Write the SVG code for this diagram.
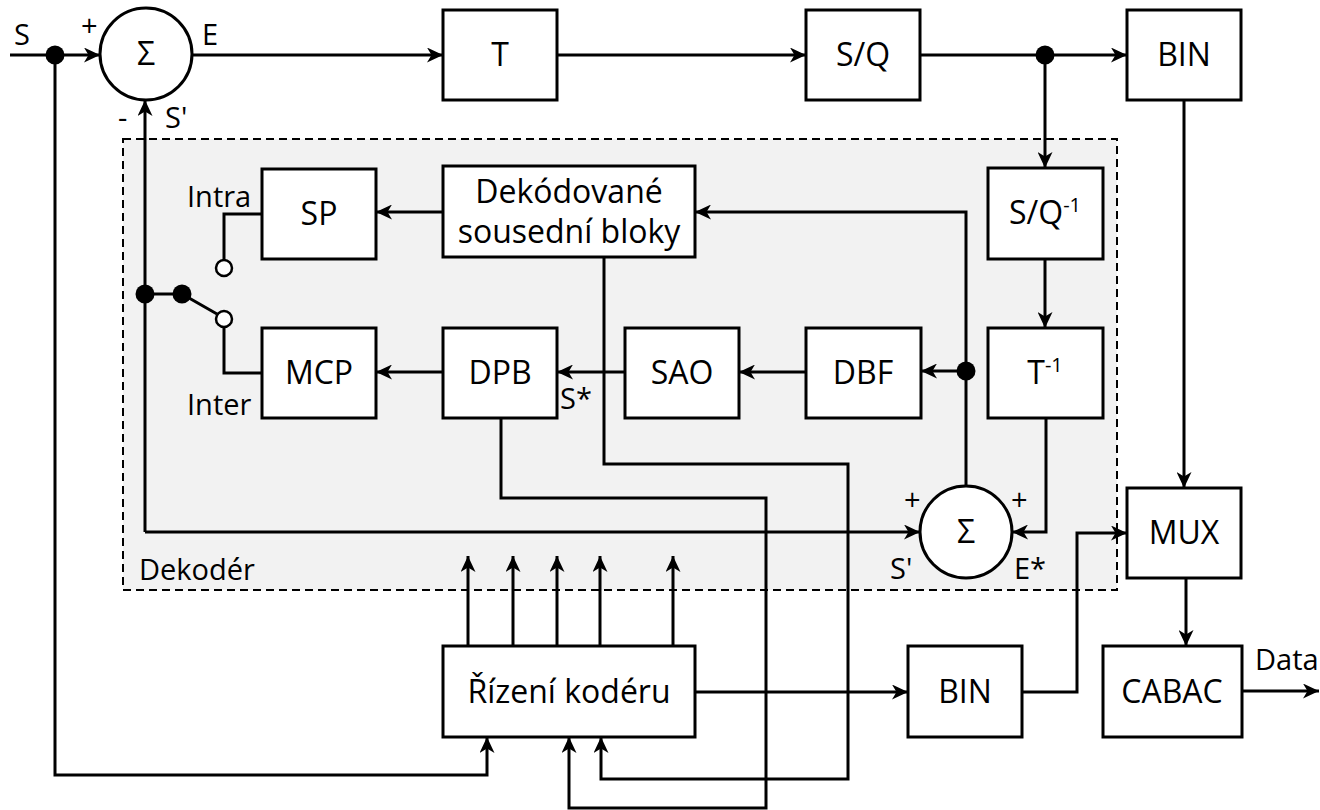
<svg xmlns="http://www.w3.org/2000/svg" width="1320" height="810" viewBox="0 0 1320 810">
<defs>
<marker id="arr" markerUnits="userSpaceOnUse" markerWidth="17" markerHeight="15" viewBox="0 0 17 15" refX="16" refY="7.5" orient="auto">
<path d="M0,0 L16,7.5 L0,15 L4.5,7.5 Z" fill="#000"/>
</marker>
<style>
.box{fill:#fff;stroke:#000;stroke-width:3}
.ln{fill:none;stroke:#000;stroke-width:3}
.a{marker-end:url(#arr)}
.dot{fill:#000}
.open{fill:#fff;stroke:#000;stroke-width:2.5}
.t{font-family:"Open Sans","Noto Sans",sans-serif;font-size:32px;fill:#000;text-anchor:middle}
.l{font-family:"Open Sans","Noto Sans",sans-serif;font-size:29px;fill:#000}
.sup{font-size:20px}
</style>
</defs>
<rect x="0" y="0" width="1320" height="810" fill="#fff"/>
<g id="decoder">
<rect x="123" y="139" width="994" height="451" fill="#f2f2f2" stroke="#000" stroke-width="2" stroke-dasharray="8,5"/>
<text class="l" x="139" y="580" font-size="30">Dekodér</text>
</g>
<g id="connectors">
<path class="ln a" d="M10,55 L100,55"/>
<path class="ln a" d="M192,55 L443,55"/>
<path class="ln a" d="M557,55 L806,55"/>
<path class="ln a" d="M920,55 L1127,55"/>
<path class="ln a" d="M1045,55 L1045,168"/>
<path class="ln a" d="M1045,259 L1045,328"/>
<path class="ln a" d="M1046,418 L1046,532 L1012,532"/>
<path class="ln a" d="M966,486 L966,212 L695,212"/>
<path class="ln a" d="M966,371 L921,371"/>
<path class="ln a" d="M806,372 L739,372"/>
<path class="ln a" d="M625,372 L557,372"/>
<path class="ln a" d="M443,372 L376,372"/>
<path class="ln a" d="M443,212 L376,212"/>
<path class="ln" d="M262,214 L224,214 L224,260"/>
<path class="ln" d="M262,373 L224,373 L224,327"/>
<path class="ln" d="M145,294 L182,294 L217,314"/>
<path class="ln a" d="M145,532 L145,100"/>
<path class="ln a" d="M145,532 L920,532"/>
<path class="ln a" d="M604,257 L604,464 L848,464 L848,779 L601,779 L601,737"/>
<path class="ln a" d="M501,418 L501,498 L766,498 L766,808 L569,808 L569,737"/>
<path class="ln a" d="M55,55 L55,775 L487,775 L487,737"/>
<path class="ln a" d="M468,646 L468,556"/>
<path class="ln a" d="M513,646 L513,556"/>
<path class="ln a" d="M557,646 L557,556"/>
<path class="ln a" d="M600,646 L600,556"/>
<path class="ln a" d="M673,646 L673,556"/>
<path class="ln a" d="M695,692 L908,692"/>
<path class="ln a" d="M1022,692 L1077,692 L1077,533 L1127,533"/>
<path class="ln a" d="M1184,100 L1184,488"/>
<path class="ln a" d="M1186,578 L1186,646"/>
<path class="ln a" d="M1242,691 L1319,691"/>
<circle class="dot" cx="55" cy="55" r="9.5"/>
<circle class="dot" cx="1045" cy="55" r="9.5"/>
<circle class="dot" cx="966" cy="371" r="9.5"/>
<circle class="dot" cx="145" cy="294" r="9.5"/>
<circle class="dot" cx="182" cy="294" r="9.5"/>
<circle class="open" cx="224" cy="268" r="8"/>
<circle class="open" cx="224" cy="319" r="8"/>
</g>
<g id="labels">
<text class="l" x="14" y="45">S</text>
<text class="l" x="81" y="36" font-size="26">+</text>
<text class="l" x="202" y="45">E</text>
<text class="l" x="118" y="128" font-size="26">-</text>
<text class="l" x="165" y="128">S'</text>
<text class="l" x="187" y="207">Intra</text>
<text class="l" x="187" y="415">Inter</text>
<text class="l" x="560" y="409">S*</text>
<text class="l" x="904" y="510" font-size="26">+</text>
<text class="l" x="1011" y="510" font-size="26">+</text>
<text class="l" x="890" y="579">S'</text>
<text class="l" x="1014" y="579">E*</text>
<text class="l" x="1255" y="670">Data</text>
</g>
<g id="sum1">
<circle cx="146" cy="54" r="46" fill="#fff" stroke="#000" stroke-width="3"/>
<text class="t" x="146" y="65">Σ</text>
</g>
<g id="sum2">
<circle cx="966" cy="532" r="46" fill="#fff" stroke="#000" stroke-width="3"/>
<text class="t" x="966" y="543">Σ</text>
</g>
<g id="T"><rect class="box" x="443" y="10" width="114" height="90"/><text class="t" x="500" y="66">T</text></g>
<g id="SQ"><rect class="box" x="806" y="10" width="114" height="90"/><text class="t" x="863" y="66">S/Q</text></g>
<g id="BIN"><rect class="box" x="1127" y="10" width="114" height="90"/><text class="t" x="1184" y="66">BIN</text></g>
<g id="SQinv"><rect class="box" x="988" y="168" width="115" height="91"/><text class="t" x="1045" y="224">S/Q<tspan class="sup" dy="-12">-1</tspan></text></g>
<g id="Tinv"><rect class="box" x="988" y="328" width="115" height="90"/><text class="t" x="1045" y="384">T<tspan class="sup" dy="-12">-1</tspan></text></g>
<g id="DBF"><rect class="box" x="806" y="328" width="115" height="90"/><text class="t" x="863" y="384">DBF</text></g>
<g id="SAO"><rect class="box" x="625" y="328" width="114" height="90"/><text class="t" x="682" y="384">SAO</text></g>
<g id="DPB"><rect class="box" x="443" y="328" width="114" height="90"/><text class="t" x="500" y="384">DPB</text></g>
<g id="MCP"><rect class="box" x="262" y="328" width="114" height="90"/><text class="t" x="319" y="384">MCP</text></g>
<g id="SP"><rect class="box" x="262" y="169" width="114" height="90"/><text class="t" x="319" y="225">SP</text></g>
<g id="DEK"><rect class="box" x="443" y="166" width="252" height="91"/><text class="t" x="569" y="203">Dekódované</text><text class="t" x="569" y="243">sousední bloky</text></g>
<g id="RIZ"><rect class="box" x="443" y="646" width="252" height="91"/><text class="t" x="569" y="703">Řízení kodéru</text></g>
<g id="BIN2"><rect class="box" x="908" y="646" width="114" height="91"/><text class="t" x="965" y="703">BIN</text></g>
<g id="MUX"><rect class="box" x="1127" y="488" width="114" height="90"/><text class="t" x="1184" y="544">MUX</text></g>
<g id="CABAC"><rect class="box" x="1103" y="646" width="139" height="91"/><text class="t" x="1172" y="703">CABAC</text></g>
</svg>
